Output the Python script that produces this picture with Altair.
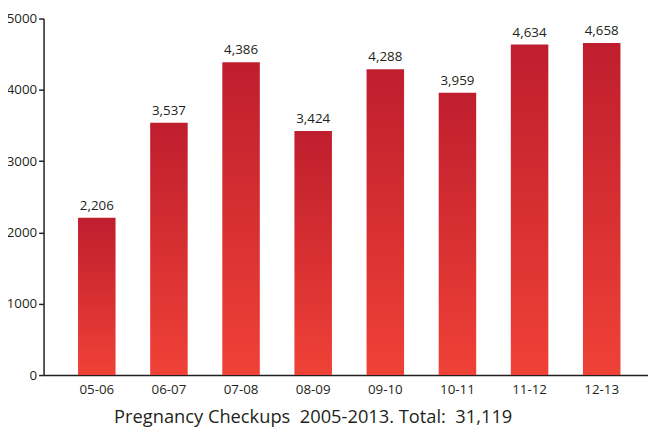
import altair as alt
import pandas as pd

seasons = ["05-06", "06-07", "07-08", "08-09", "09-10", "10-11", "11-12", "12-13"]
checkups = [2206, 3537, 4386, 3424, 4288, 3959, 4634, 4658]
y_ticks = [0, 1000, 2000, 3000, 4000, 5000]
title_text = "Pregnancy Checkups\u00a0\u00a02005-2013. Total:\u00a0\u00a031,119"

df = pd.DataFrame({"season": seasons, "checkups": checkups})

FONT = "Open Sans"
INK = "#231f20"

x = alt.X(
    "season:N", sort=seasons, title=None,
    scale=alt.Scale(paddingInner=0.48, paddingOuter=0.43, align=0.556),
    axis=alt.Axis(labelAngle=0, ticks=False, domainColor=INK, domainWidth=1.5,
                  labelFontSize=13.5, labelPadding=8, labelColor=INK, labelFont=FONT),
)
y = alt.Y(
    "checkups:Q", title=None,
    scale=alt.Scale(domain=[0, 5000]),
    axis=alt.Axis(values=y_ticks, format="d", grid=False, tickSize=5, tickColor=INK,
                  tickWidth=1.5, domainColor=INK, domainWidth=1.5, labelFontSize=13.5,
                  labelColor=INK, labelFont=FONT, labelPadding=2),
)

grad = alt.Gradient(
    gradient="linear",
    stops=[alt.GradientStop(color="#bf1e2e", offset=0),
           alt.GradientStop(color="#ef4136", offset=1)],
    x1=0, x2=0, y1=0, y2=1,
)

bars = alt.Chart(df).mark_bar(color=grad).encode(x=x, y=y)
labels = alt.Chart(df).mark_text(baseline="bottom", dy=-5, fontSize=13.5, font=FONT, color=INK).encode(
    x=x, y=y, text=alt.Text("checkups:Q", format=",")
)

chart = (bars + labels).properties(
    width=612, height=361,
    autosize="none",
    padding={"left": 36, "top": 8, "right": 0, "bottom": 54},
    title=alt.TitleParams(title_text, orient="bottom", anchor="middle", dx=-33, offset=12,
                          fontSize=18.5, font=FONT, fontWeight="normal", color=INK),
).configure_view(stroke=None)

chart.save("out.html", embed_options={"renderer": "svg", "actions": False})
